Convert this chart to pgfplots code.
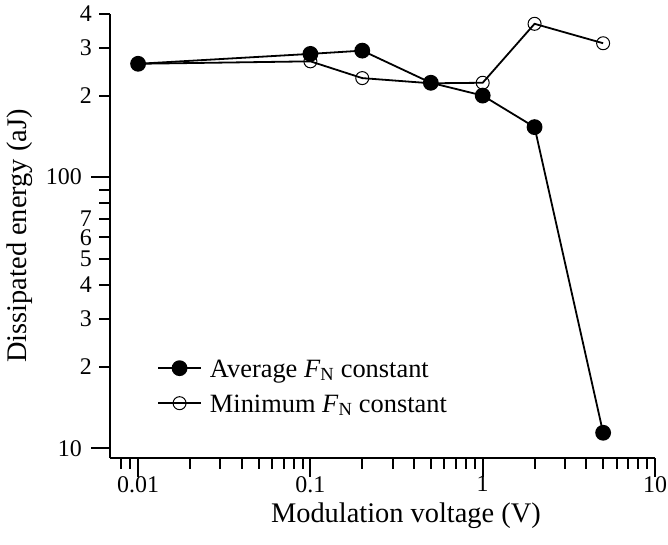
\documentclass[border=0pt]{standalone}
\usepackage{fontspec}
\setmainfont{Liberation Serif}
\usepackage{pgfplots}
\pgfplotsset{compat=1.18}
\begin{document}
\begin{tikzpicture}
\begin{loglogaxis}[
  at={(110bp,87bp)}, anchor=south west,
  scale only axis, width=545bp, height=444bp,
  xmin=0.00687, xmax=10, ymin=9.2, ymax=400,
  axis lines=left, axis line style={-, line width=2bp, black},
  tick align=outside, major tick length=19bp, minor tick length=11bp,
  major tick style={line width=2bp, black},
  minor tick style={line width=2bp, black},
  xtick={0.01,0.1,1,10}, xticklabels={0.01,0.1,1,10},
  minor xtick={0.008,0.009,0.02,0.03,0.04,0.05,0.06,0.07,0.08,0.09,0.2,0.3,0.4,0.5,0.6,0.7,0.8,0.9,2,3,4,5,6,7,8,9},
  ytick={10,100}, yticklabels={10,100},
  minor ytick={20,30,40,50,60,70,80,90,200,300,400},
  extra y ticks={20,30,40,50,60,70,200,300,400},
  extra y tick labels={2,3,4,5,6,7,2,3,4},
  extra y tick style={major tick length=11bp, yticklabel shift=6.5bp},
  ticklabel style={font=\fontsize{24}{28}\selectfont, inner sep=0.5bp},
  yticklabel shift=8.5bp,
  xticklabel shift=-1.5bp,
  xlabel={Modulation voltage (V)},
  xlabel style={at={(axis description cs:0.543,-0.1464)}, anchor=base, font=\fontsize{28.5}{33}\selectfont, inner sep=0pt},
  ylabel={Dissipated energy (aJ)},
  ylabel style={at={(axis description cs:-0.1523,0.5)}, anchor=base, font=\fontsize{28.5}{33}\selectfont, inner sep=0pt},
  clip=false,
  legend cell align=left,
  legend style={at={(axis description cs:0.0862,0.2275)}, anchor=north west, draw=none, fill=none, inner sep=0pt,
    font=\fontsize{26.5}{30}\selectfont, row sep=8bp,
    nodes={inner sep=0pt, text height=20bp, text depth=7bp}},
  legend image code/.code={\draw[mark repeat=2,mark phase=2] plot coordinates {(0bp,2.5bp) (21.5bp,2.5bp) (43bp,2.5bp)};},
  /tikz/every odd column/.append style={column sep=8bp},
]
\addplot[black, line width=1.8bp, mark=*, mark size=7bp, mark options={fill=black, solid}]
  coordinates {(0.01,262) (0.1,285) (0.2,293) (0.5,223) (1,200) (2,153) (5,11.4)};
\addlegendentry{Average \textit{F}\textsubscript{N} constant}
\addplot[black, line width=1.8bp, mark=o, mark size=6.5bp, mark options={line width=1bp, solid}]
  coordinates {(0.01,262) (0.1,267.5) (0.2,232) (0.5,222) (1,223) (2,368) (5,312)};
\addlegendentry{Minimum \textit{F}\textsubscript{N} constant}
\end{loglogaxis}
\pgfresetboundingbox
\path[use as bounding box] (0,0) rectangle (668bp,545bp);
\end{tikzpicture}
\end{document}
